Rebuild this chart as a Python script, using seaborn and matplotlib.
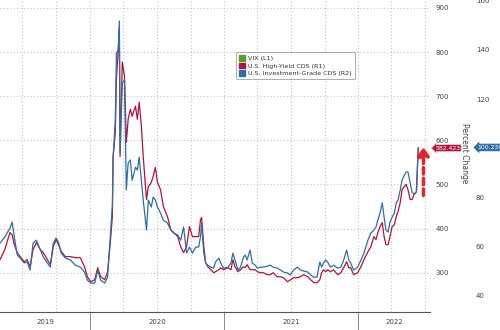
import matplotlib
matplotlib.use("Agg")
import matplotlib.pyplot as plt
import matplotlib.dates as mdates
import matplotlib.transforms as mtransforms
from matplotlib.patches import Patch
import seaborn as sns
import pandas as pd
import numpy as np

dates = ["2019-05-01","2019-05-14","2019-05-28","2019-06-03","2019-06-09","2019-06-17","2019-06-25",
"2019-07-06","2019-07-14","2019-07-22","2019-07-30","2019-08-08","2019-08-19","2019-08-27",
"2019-09-07","2019-09-15","2019-09-23","2019-10-01","2019-10-07","2019-10-15","2019-10-26",
"2019-11-09","2019-11-22","2019-12-06","2019-12-17","2019-12-25","2020-01-03","2020-01-14",
"2020-01-22","2020-01-30","2020-02-10","2020-02-18","2020-02-26","2020-03-02","2020-03-04",
"2020-03-10","2020-03-13","2020-03-18","2020-03-21","2020-03-23","2020-03-29","2020-04-04",
"2020-04-09","2020-04-14","2020-04-20","2020-04-25","2020-05-04","2020-05-09","2020-05-14",
"2020-05-20","2020-05-25","2020-06-03","2020-06-08","2020-06-16","2020-06-21","2020-06-27",
"2020-07-03","2020-07-11","2020-07-19","2020-07-30","2020-08-08","2020-08-16","2020-08-27",
"2020-09-04","2020-09-12","2020-09-20","2020-09-28","2020-10-06","2020-10-15","2020-10-23",
"2020-10-28","2020-10-31","2020-11-06","2020-11-11","2020-11-17","2020-11-25","2020-12-03",
"2020-12-08","2020-12-17","2020-12-22","2020-12-30","2021-01-11","2021-01-19","2021-01-24",
"2021-01-30","2021-02-07","2021-02-14","2021-02-22","2021-02-27","2021-03-04","2021-03-12",
"2021-03-18","2021-03-26","2021-04-01","2021-04-09","2021-04-17","2021-04-28","2021-05-06",
"2021-05-14","2021-05-25","2021-06-03","2021-06-11","2021-06-22","2021-06-30","2021-07-08",
"2021-07-19","2021-07-27","2021-08-05","2021-08-16","2021-08-24","2021-09-02","2021-09-10",
"2021-09-18","2021-09-23","2021-09-28","2021-10-04","2021-10-09","2021-10-17","2021-10-25",
"2021-11-06","2021-11-14","2021-11-22","2021-11-30","2021-12-06","2021-12-11","2021-12-19",
"2021-12-30","2022-01-08","2022-01-16","2022-01-27","2022-02-04","2022-02-12","2022-02-18",
"2022-02-23","2022-03-01","2022-03-07","2022-03-12","2022-03-17","2022-03-23","2022-03-28",
"2022-04-03","2022-04-09","2022-04-14","2022-04-19","2022-04-25","2022-04-30","2022-05-06",
"2022-05-11","2022-05-16","2022-05-22","2022-05-27","2022-06-02","2022-06-08","2022-06-13"]

hy_cds = [329.5,352.3,390.9,386.4,363.6,345.5,336.4,
325.0,329.5,313.6,352.3,368.2,352.3,345.5,
329.5,318.2,359.1,375.0,363.6,347.7,336.4,
336.4,334.1,334.1,313.6,290.9,279.5,284.1,
311.4,290.9,284.1,302.3,375.0,427.3,561.4,
618.2,738.6,806.8,852.3,563.6,777.3,745.5,
595.5,647.7,670.5,654.5,677.3,647.7,686.4,
631.8,563.6,465.9,495.5,504.5,518.2,538.6,
504.5,488.6,450.0,427.3,397.7,390.9,381.8,
359.1,345.5,359.1,404.5,381.8,381.8,381.8,
420.5,425.0,359.1,322.7,313.6,306.8,300.0,
302.3,306.8,311.4,306.8,311.4,306.8,329.5,
313.6,302.3,306.8,313.6,311.4,318.2,306.8,
306.8,306.8,302.3,300.0,300.0,295.5,295.5,
300.0,290.9,290.9,288.6,279.5,284.1,288.6,
288.6,290.9,295.5,290.9,284.1,277.3,277.3,
284.1,300.0,306.8,302.3,306.8,302.3,306.8,
295.5,300.0,311.4,325.0,311.4,311.4,295.5,
300.0,313.6,329.5,347.7,359.1,381.8,375.0,
390.9,404.5,413.6,381.8,363.6,363.6,381.8,
404.5,409.1,427.3,438.6,459.1,488.6,495.5,
500.0,488.6,465.9,465.9,477.3,484.1,582.423]

ig_cds = [61.2,63.7,67.3,69.8,63.7,56.3,55.1,
53.1,53.5,50.2,61.2,62.4,58.4,55.5,
53.1,51.4,61.2,63.3,61.6,57.1,55.1,
54.3,52.2,51.4,49.4,46.1,44.9,44.9,
50.2,46.1,44.9,47.3,65.3,76.7,96.3,
111.4,138.8,140.0,151.8,98.0,126.5,127.8,
82.9,93.9,95.1,86.9,92.2,91.0,96.3,
86.9,78.8,66.5,78.8,75.9,80.0,78.8,
75.9,73.5,70.6,69.4,66.5,65.3,64.5,
62.4,67.8,57.1,59.6,57.1,59.6,59.6,
63.7,69.4,57.1,53.1,52.2,51.4,51.0,
53.5,55.1,53.1,51.0,51.4,53.1,57.1,
54.3,50.2,51.4,55.5,56.3,54.3,58.4,
53.1,52.2,51.0,51.4,51.4,51.8,52.2,
51.4,51.0,50.2,49.4,49.0,48.2,50.2,
51.4,50.2,49.8,49.4,48.2,47.3,47.3,
53.5,51.4,53.1,54.3,53.5,51.4,52.2,
51.0,51.4,54.3,58.4,54.3,53.1,50.2,
51.4,54.3,57.1,62.4,65.3,66.5,67.8,
70.6,73.5,77.6,71.8,66.5,65.7,69.8,
71.8,73.5,77.6,78.8,82.9,86.9,88.9,
90.2,90.2,85.7,82.0,81.2,82.0,100.230]

legend_labels = ["VIX (L1)", "U.S. High-Yield CDS (R1)", "U.S. Investment-Grade CDS (R2)"]
year_labels = ["2019", "2020", "2021", "2022"]
left_ticks = [300, 400, 500, 600, 700, 800, 900]
right_ticks = [40, 60, 80, 120, 140, 160]

df = pd.DataFrame({"date": pd.to_datetime(dates), "hy": hy_cds, "ig": ig_cds})

sns.set_style("white")
plt.rcParams["font.family"] = ["DejaVu Sans"]

RED = "#b3123a"
BLUE = "#2e6ea6"
GREEN = "#5b9b28"
GRID = "#c4c4c4"
TXT = "#444444"

fig = plt.figure(figsize=(5, 3.3), dpi=100)
ax = fig.add_axes([0.0, 18/330, 430/500, 312/330])
ax2 = ax.twinx()

sns.lineplot(data=df, x="date", y="hy", ax=ax, color=RED, lw=0.9)
sns.lineplot(data=df, x="date", y="ig", ax=ax2, color=BLUE, lw=0.9)

xmin, xmax = pd.Timestamp("2019-05-01"), pd.Timestamp("2022-07-15")
ax.set_xlim(xmin, xmax)
ax.set_ylim(211, 918)
ax2.set_ylim(33.1, 160.4)

for a in (ax, ax2):
    a.set_xlabel("")
    a.set_ylabel("")
    for s in a.spines.values():
        s.set_visible(False)

ax.spines["bottom"].set_visible(True)
ax.spines["bottom"].set_color("#555555")
ax.spines["bottom"].set_linewidth(0.8)

# left-scale ticks drawn on the right
ax.yaxis.tick_right()
ax.set_yticks(left_ticks)
ax.tick_params(axis="y", length=0, pad=4, labelsize=5, labelcolor=TXT)
ax2.set_yticks(right_ticks)
ax2.tick_params(axis="y", length=0, pad=33, labelsize=5, labelcolor=TXT)

ax.grid(True, axis="y", color=GRID, linestyle=(0, (1, 2)), lw=0.8)
ax.xaxis.set_major_locator(mdates.MonthLocator(bymonth=[1, 4, 7, 10]))
ax.xaxis.set_minor_locator(mdates.MonthLocator())
ax.grid(True, axis="x", which="major", color=GRID, linestyle=(0, (1, 2)), lw=0.8)
ax.tick_params(axis="x", which="both", labelbottom=False, direction="out",
               length=2, width=0.6, color="#555555")
ax2.grid(False)
ax2.tick_params(axis="x", which="both", bottom=False, labelbottom=False)

trans = mtransforms.blended_transform_factory(ax.transData, ax.transAxes)
ystarts = [pd.Timestamp(f"{y}-01-01") for y in year_labels]
for ys in ystarts[1:]:
    ax.axvline(ys, ymin=-0.06, ymax=0, color="#777777", lw=0.6, clip_on=False)
bounds = [xmin] + ystarts[1:] + [xmax]
for i, lab in enumerate(year_labels):
    mid = bounds[i] + (bounds[i + 1] - bounds[i]) / 2
    ax.text(mid, -0.033, lab, transform=trans, ha="center", va="center",
            fontsize=5, color=TXT)

# value tags
ax.annotate(f"{hy_cds[-1]:.3f}", xy=(1.041, hy_cds[-1]),
            xycoords=("axes fraction", "data"), ha="center", va="center",
            fontsize=4.4, color="white",
            bbox=dict(boxstyle="larrow,pad=0.15", fc=RED, ec="#f2c9d2", lw=0.5))
ax2.annotate(f"{ig_cds[-1]:.3f}", xy=(1.14, ig_cds[-1]),
             xycoords=("axes fraction", "data"), ha="center", va="center",
             fontsize=4.4, color="white",
             bbox=dict(boxstyle="larrow,pad=0.15", fc=BLUE, ec=BLUE, lw=0.5))

# dashed red arrow
arrow_x = pd.Timestamp("2022-06-27")
ax2.annotate("", xy=(arrow_x, 101.5), xytext=(arrow_x, 79.5),
             arrowprops=dict(arrowstyle="-|>,head_width=0.35,head_length=0.5",
                             linestyle=(0, (2, 1.2)), lw=2.4, color="#e3242b"))

fig.text(464/500, 1 - 153/330, "Percent Change", rotation=270, ha="center",
         va="center", fontsize=5.5, color=TXT)

handles = [Patch(fc=GREEN, ec=GREEN), Patch(fc=RED, ec=RED), Patch(fc=BLUE, ec=BLUE)]
leg = fig.legend(handles, legend_labels, loc="upper left",
                 bbox_to_anchor=(233/500, 1 - 49/330), fontsize=4.6,
                 handlelength=0.9, handleheight=0.9, handletextpad=0.4,
                 labelspacing=0.25, borderpad=0.5, frameon=True, fancybox=True)
leg.get_frame().set_edgecolor("#888888")
leg.get_frame().set_linewidth(0.6)
for t in leg.get_texts():
    t.set_color("#333333")

fig.savefig("out.png", dpi=100)
